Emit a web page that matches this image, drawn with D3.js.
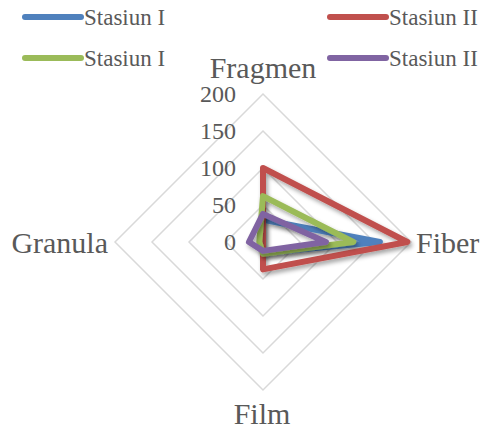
<!DOCTYPE html>
<html>
<head>
<meta charset="utf-8">
<script src="https://cdn.jsdelivr.net/npm/d3@7"></script>
<style>
  html, body { margin: 0; padding: 0; background: #fff; }
  svg { display: block; }
</style>
</head>
<body>
<svg id="chart" width="484" height="430"></svg>
<script>
// Radar axes (clockwise from top)
const axes = ["Fragmen", "Fiber", "Film", "Granula"];
// Series names and colours
const seriesNames = ["Stasiun I", "Stasiun II", "Stasiun I", "Stasiun II"];
const seriesColors = ["#4F81BD", "#C0504D", "#9BBB59", "#8064A2"];
// Values per series, in axis order
const blueValues   = [30, 158, 15, 0];
const redValues    = [100, 195, 37, 0];
const greenValues  = [62, 122, 16, 5];
const purpleValues = [38, 85, 12, 19];
const seriesValues = [blueValues, redValues, greenValues, purpleValues];
// Radial tick values
const ticks = [0, 50, 100, 150, 200];

const svg = d3.select("#chart");
const cx = 263, cy = 242;
const r = d3.scaleLinear().domain([0, 200]).range([0, 148]);
const angle = d3.scalePoint().domain(axes).range([0, 2 * Math.PI * 3 / 4]);
const pt = (a, v) => {
  const t = angle(a);
  return [cx + r(v) * Math.sin(t), cy - r(v) * Math.cos(t)];
};

const defs = svg.append("defs");
const f = defs.append("filter").attr("id", "shadow")
  .attr("x", "-20%").attr("y", "-20%").attr("width", "150%").attr("height", "150%");
f.append("feDropShadow").attr("dx", 2).attr("dy", 3).attr("stdDeviation", 2)
  .attr("flood-color", "#000").attr("flood-opacity", 0.35);

// Grid diamonds
const g = svg.append("g");
ticks.filter(t => t > 0).forEach(t => {
  g.append("path")
    .attr("d", d3.line()(axes.map(a => pt(a, t))) + "Z")
    .attr("fill", "none").attr("stroke", "#D9D9D9").attr("stroke-width", 1.5);
});

// Tick labels
const textColor = "#595959";
g.selectAll("text.tick").data(ticks).join("text")
  .attr("class", "tick")
  .attr("x", 236)
  .attr("y", d => cy - r(d))
  .attr("dy", "0.35em")
  .attr("text-anchor", "end")
  .attr("font-family", "Liberation Serif")
  .attr("font-size", 24)
  .attr("fill", textColor)
  .text(d => d);

// Series polygons
const lineGen = d3.line().curve(d3.curveLinearClosed);
svg.append("g").selectAll("path.series").data(seriesValues).join("path")
  .attr("class", "series")
  .attr("d", vals => lineGen(axes.map((a, i) => pt(a, vals[i]))))
  .attr("fill", "none")
  .attr("stroke", (d, i) => seriesColors[i])
  .attr("stroke-width", 6)
  .attr("stroke-linejoin", "round")
  .attr("filter", "url(#shadow)");

// Axis labels
const labelFont = { family: "Liberation Serif", size: 30 };
const axisLabels = [
  { name: "Fragmen", x: cx, y: 78, anchor: "middle" },
  { name: "Fiber", x: 416, y: 253, anchor: "start" },
  { name: "Film", x: cx - 1, y: 424, anchor: "middle" },
  { name: "Granula", x: 108, y: 253, anchor: "end" }
];
svg.append("g").selectAll("text").data(axisLabels).join("text")
  .attr("x", d => d.x).attr("y", d => d.y)
  .attr("text-anchor", d => d.anchor)
  .attr("font-family", labelFont.family)
  .attr("font-size", labelFont.size)
  .attr("fill", textColor)
  .text(d => d.name);

// Legend (two rows, two columns)
const legendPos = [
  { x: 25, y: 17 }, { x: 330, y: 17 },
  { x: 25, y: 58 }, { x: 330, y: 58 }
];
const lg = svg.append("g").selectAll("g").data(seriesNames).join("g")
  .attr("transform", (d, i) => `translate(${legendPos[i].x},${legendPos[i].y})`);
lg.append("line").attr("x1", 0).attr("x2", 56).attr("y1", 0).attr("y2", 0)
  .attr("stroke", (d, i) => seriesColors[i]).attr("stroke-width", 6)
  .attr("stroke-linecap", "round");
lg.append("text").attr("x", 59).attr("y", 8)
  .attr("font-family", "Liberation Serif").attr("font-size", 23)
  .attr("fill", textColor)
  .text(d => d);
</script>
</body>
</html>
